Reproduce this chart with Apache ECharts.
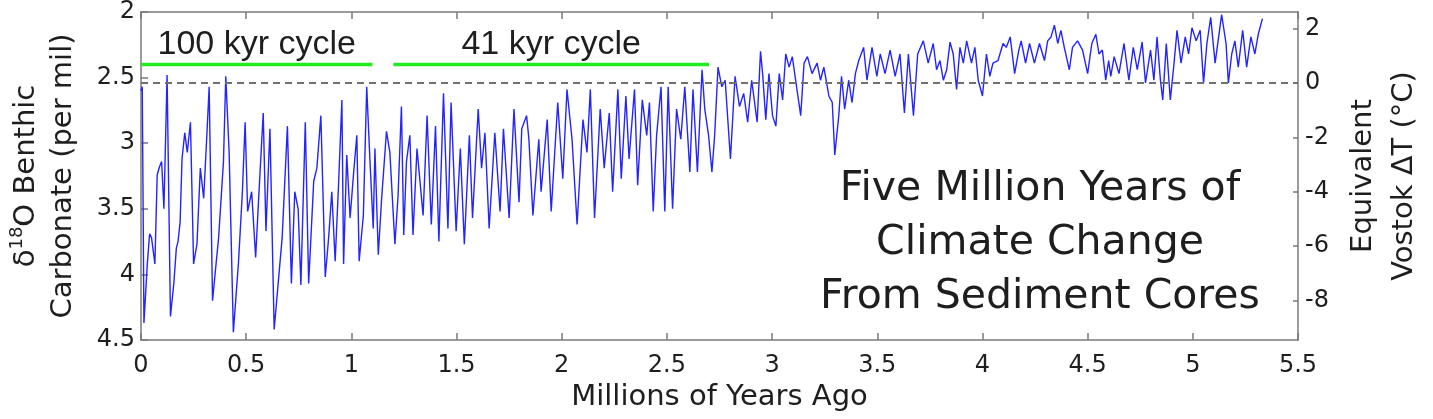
<!DOCTYPE html>
<html>
<head>
<meta charset="utf-8">
<script src="https://cdn.jsdelivr.net/npm/echarts@6.0.0/dist/echarts.min.js"></script>
<style>
  html, body { margin: 0; padding: 0; background: #ffffff; }
  #chart { width: 1433px; height: 419px; }
</style>
</head>
<body>
<div id="chart"></div>
<script>
// ---- Data ----
// Age in millions of years ago
const age = [
  0.000, 0.006, 0.014, 0.030, 0.041, 0.050, 0.066, 0.077, 0.088, 0.098, 0.109, 0.124, 0.140, 0.156, 0.168, 0.176, 0.186, 0.195, 0.208, 0.220, 0.235, 0.250, 0.266, 0.282, 0.298, 0.313, 0.324, 0.340, 0.355, 0.369, 0.392, 0.403, 0.419, 0.439, 0.463, 0.482, 0.495, 0.507, 0.526, 0.545, 0.561, 0.581, 0.594, 0.613, 0.633, 0.652, 0.671, 0.696, 0.715, 0.731, 0.747,
  0.760, 0.781, 0.797, 0.821, 0.836, 0.855, 0.876, 0.892, 0.907, 0.923, 0.939, 0.955, 0.963, 0.978, 0.994, 1.010, 1.026, 1.037, 1.057, 1.073, 1.088, 1.104, 1.112, 1.128, 1.144, 1.167, 1.183, 1.207, 1.222, 1.238, 1.249, 1.262, 1.278, 1.293, 1.312, 1.341, 1.360, 1.380, 1.400, 1.416, 1.438, 1.459, 1.474,
  1.498, 1.518, 1.537, 1.561, 1.576, 1.603, 1.619, 1.635, 1.655, 1.682, 1.707, 1.723, 1.750, 1.773, 1.797, 1.810, 1.833, 1.844, 1.863, 1.891, 1.902, 1.931, 1.950, 1.981, 2.005, 2.025, 2.049, 2.073, 2.101, 2.120, 2.136, 2.156, 2.183, 2.202,
  2.226, 2.242, 2.267, 2.283, 2.305, 2.320, 2.346, 2.361, 2.383, 2.404, 2.417, 2.435, 2.451, 2.472, 2.490, 2.506, 2.527, 2.546, 2.566, 2.585, 2.609, 2.624, 2.645, 2.667, 2.680, 2.698, 2.714, 2.727, 2.743, 2.761, 2.777, 2.802, 2.824, 2.845, 2.865, 2.884, 2.903, 2.929,
  2.945, 2.955, 2.970, 2.985, 3.002, 3.018, 3.034, 3.050, 3.065, 3.081, 3.096, 3.112, 3.136, 3.152, 3.168, 3.190, 3.214, 3.230, 3.246, 3.270, 3.286, 3.298, 3.317, 3.330, 3.345, 3.364, 3.380, 3.396, 3.412, 3.435, 3.451, 3.475, 3.498, 3.514, 3.537, 3.561, 3.585, 3.608, 3.629, 3.648, 3.672, 3.692, 3.719, 3.742, 3.766,
  3.782, 3.798, 3.814, 3.830, 3.846, 3.861, 3.877, 3.893, 3.909, 3.925, 3.948, 3.964, 3.980, 4.000, 4.019, 4.035, 4.050, 4.074, 4.098, 4.113, 4.132, 4.153, 4.173, 4.184, 4.205, 4.224, 4.247, 4.271, 4.295, 4.310, 4.326, 4.342, 4.358, 4.373, 4.389, 4.413, 4.428, 4.452, 4.476, 4.500, 4.520, 4.539, 4.554, 4.570, 4.586,
  4.600, 4.610, 4.626, 4.649, 4.673, 4.696, 4.717, 4.736, 4.759, 4.775, 4.799, 4.815, 4.830, 4.846, 4.857, 4.874, 4.893, 4.909, 4.925, 4.944, 4.964, 4.980, 4.996, 5.016, 5.035, 5.051, 5.067, 5.085, 5.106, 5.137, 5.158, 5.169, 5.185, 5.200, 5.216, 5.237, 5.256, 5.276, 5.295, 5.311, 5.331
];
// delta-18O of benthic carbonate (per mil)
const d18O = [
  2.60, 2.57, 4.37, 3.92, 3.69, 3.72, 3.92, 3.24, 3.18, 3.14, 3.50, 2.48, 4.32, 4.07, 3.80, 3.75, 3.60, 3.12, 2.92, 3.07, 2.84, 3.92, 3.77, 3.19, 3.42, 2.94, 2.57, 4.20, 3.95, 3.72, 3.14, 2.49, 3.07, 4.44, 3.92, 3.37, 2.84, 3.52, 3.37, 3.87, 3.37, 2.77, 3.67, 2.89, 4.42, 4.07, 3.72, 2.87, 4.07, 3.37, 3.50,
  4.08, 2.84, 4.07, 3.29, 3.19, 2.79, 4.02, 3.72, 3.37, 3.90, 3.32, 2.67, 3.92, 3.09, 3.57, 3.24, 2.94, 3.90, 3.55, 2.57, 3.12, 3.65, 3.04, 3.85, 3.42, 2.91, 3.07, 3.77, 3.40, 2.72, 3.70, 3.14, 2.94, 3.70, 3.04, 3.55, 2.79, 3.62, 2.87, 3.75, 2.62, 3.65, 2.69,
  3.67, 3.04, 3.77, 2.94, 3.57, 2.74, 3.19, 2.92, 3.65, 2.92, 3.52, 2.89, 3.57, 2.74, 3.45, 2.89, 2.79, 2.97, 3.55, 2.97, 3.37, 2.82, 3.52, 2.69, 3.27, 2.59, 2.97, 3.62, 2.82, 3.07, 2.59, 3.57, 2.74, 3.19,
  2.77, 3.37, 2.59, 3.27, 2.64, 3.12, 2.59, 3.32, 2.67, 2.94, 2.69, 3.52, 2.94, 2.57, 3.52, 2.57, 3.50, 2.74, 2.97, 2.57, 3.22, 2.59, 3.22, 2.44, 2.74, 2.94, 3.22, 2.94, 2.42, 2.57, 2.52, 3.12, 2.49, 2.72, 2.62, 2.84, 2.52, 2.84,
  2.30, 2.47, 2.82, 2.47, 2.79, 2.87, 2.47, 2.67, 2.32, 2.42, 2.34, 2.52, 2.79, 2.39, 2.34, 2.47, 2.39, 2.52, 2.42, 2.64, 2.69, 3.09, 2.79, 2.49, 2.74, 2.52, 2.69, 2.47, 2.37, 2.27, 2.52, 2.27, 2.49, 2.32, 2.47, 2.29, 2.49, 2.32, 2.77, 2.32, 2.79, 2.32, 2.22, 2.39, 2.24,
  2.44, 2.37, 2.52, 2.44, 2.23, 2.32, 2.59, 2.27, 2.39, 2.22, 2.39, 2.27, 2.52, 2.64, 2.32, 2.49, 2.39, 2.37, 2.24, 2.27, 2.19, 2.47, 2.29, 2.22, 2.39, 2.24, 2.39, 2.24, 2.37, 2.22, 2.19, 2.10, 2.24, 2.14, 2.27, 2.44, 2.27, 2.22, 2.29, 2.47, 2.24, 2.17, 2.32, 2.29, 2.52,
  2.37, 2.49, 2.34, 2.47, 2.24, 2.52, 2.27, 2.44, 2.23, 2.54, 2.29, 2.52, 2.19, 2.52, 2.67, 2.24, 2.67, 2.42, 2.14, 2.39, 2.19, 2.32, 2.12, 2.22, 2.14, 2.54, 2.24, 2.04, 2.39, 2.02, 2.24, 2.54, 2.32, 2.22, 2.42, 2.14, 2.42, 2.19, 2.32, 2.17, 2.05
];

// Axis ticks
const ageTicks = { min: 0, max: 5.5, step: 0.5 };
const d18OTicks = { min: 2, max: 4.5, step: 0.5 };
const tempTicks = [-8, -6, -4, -2, 0, 2];
// Equivalent Vostok dT range matching the left axis limits (2 .. 4.5 per mil)
const tempRange = { top: 2.62, bottom: -9.46 };
const tempReference = [0];

// Cycle annotations
const cycleLabels = ['100 kyr cycle', '41 kyr cycle'];
const cycleStart = [0.0, 1.20];
const cycleEnd = [1.10, 2.70];
const cycleLevel = 2.40;

const titleLines = ['Five Million Years of', 'Climate Change', 'From Sediment Cores'];

// ---- Chart ----
const chart = echarts.init(document.getElementById('chart'), null, { renderer: 'canvas' });

const axisColor = '#7a7a7a';
const textColor = '#1e1e1e';
const tickFont = 'DejaVu Sans';

const seriesData = age.map((a, i) => [a, d18O[i]]);

const cycleSeries = cycleLabels.map((name, i) => ({
  name: name,
  type: 'line',
  xAxisIndex: 0,
  yAxisIndex: 0,
  data: [[cycleStart[i], cycleLevel], [cycleEnd[i], cycleLevel]],
  showSymbol: false,
  symbol: 'none',
  lineStyle: { color: '#22ec22', width: 3.5 },
  z: 4,
  silent: true
}));

const option = {
  backgroundColor: '#ffffff',
  animation: false,
  grid: { left: 138, right: 131, top: 8, bottom: 79, containLabel: false },
  xAxis: [
    {
      type: 'value', position: 'bottom',
      min: ageTicks.min, max: ageTicks.max, interval: ageTicks.step,
      axisLine: { show: true, onZero: false, lineStyle: { color: axisColor, width: 1.5 } },
      axisTick: { show: true, inside: true, length: 7, lineStyle: { color: axisColor, width: 1.5 } },
      axisLabel: { fontSize: 24, fontFamily: tickFont, color: textColor, margin: 14 },
      splitLine: { show: false },
      name: 'Millions of Years Ago', nameLocation: 'middle', nameGap: 42,
      nameTextStyle: { fontSize: 29, fontFamily: tickFont, color: textColor }
    },
    {
      type: 'value', position: 'top',
      min: ageTicks.min, max: ageTicks.max, interval: ageTicks.step,
      axisLine: { show: true, onZero: false, lineStyle: { color: axisColor, width: 1.5 } },
      axisTick: { show: true, inside: true, length: 7, lineStyle: { color: axisColor, width: 1.5 } },
      axisLabel: { show: false },
      splitLine: { show: false }
    }
  ],
  yAxis: [
    {
      type: 'value', position: 'left', inverse: true,
      min: d18OTicks.min, max: d18OTicks.max, interval: d18OTicks.step,
      axisLine: { show: true, onZero: false, lineStyle: { color: axisColor, width: 1.5 } },
      axisTick: { show: true, inside: true, length: 7, lineStyle: { color: axisColor, width: 1.5 } },
      axisLabel: { fontSize: 24, fontFamily: tickFont, color: textColor, margin: 6 },
      splitLine: { show: false },
      name: '{a|δ}{s|18}{a|O Benthic}\n{a|Carbonate (per mil)}',
      nameLocation: 'middle', nameRotate: 90, nameGap: 59,
      nameTextStyle: {
        color: textColor, fontFamily: tickFont, fontSize: 29, lineHeight: 37,
        rich: {
          a: { fontSize: 29, fontFamily: tickFont, color: textColor, lineHeight: 37 },
          s: { fontSize: 18, fontFamily: tickFont, color: textColor, lineHeight: 37, verticalAlign: 'top', padding: [0, 0, 14, 0] }
        }
      }
    },
    {
      type: 'value', position: 'right',
      min: tempRange.bottom, max: tempRange.top,
      axisLine: { show: true, onZero: false, lineStyle: { color: axisColor, width: 1.5 } },
      axisTick: { show: true, inside: true, length: 5, customValues: tempTicks, lineStyle: { color: axisColor, width: 1.5 } },
      axisLabel: { fontSize: 24, fontFamily: tickFont, color: textColor, margin: 7, customValues: tempTicks },
      splitLine: { show: false },
      name: 'Equivalent\nVostok ΔT (°C)',
      nameLocation: 'middle', nameRotate: 90, nameGap: 45,
      nameTextStyle: { color: textColor, fontFamily: tickFont, fontSize: 29, lineHeight: 41 }
    }
  ],
  series: [
    {
      name: 'd18O',
      type: 'line',
      xAxisIndex: 0, yAxisIndex: 0,
      data: seriesData,
      showSymbol: false, symbol: 'none',
      lineStyle: { color: '#2424ff', width: 1.4 },
      z: 3, silent: true
    },
    ...cycleSeries,
    {
      name: 'reference',
      type: 'line',
      xAxisIndex: 0, yAxisIndex: 1,
      data: [],
      silent: true,
      markLine: {
        silent: true,
        symbol: ['none', 'none'],
        label: { show: false },
        lineStyle: { color: '#707070', width: 2, type: [7, 5] },
        data: tempReference.map(v => ({ yAxis: v })),
        z: 5
      }
    }
  ]
};

chart.setOption(option);

// Text annotations placed from the data coordinates
const graphics = cycleLabels.map((label, i) => {
  const p = chart.convertToPixel({ xAxisIndex: 0, yAxisIndex: 0 }, [(cycleStart[i] + cycleEnd[i]) / 2, cycleLevel]);
  return {
    type: 'text',
    x: p[0], y: p[1] - 20,
    z: 10,
    style: {
      text: label, fill: textColor,
      fontSize: 34, fontFamily: 'Liberation Sans',
      align: 'center', verticalAlign: 'middle'
    }
  };
});
graphics.push({
  type: 'text',
  x: 1040, y: 243,
  z: 10,
  style: {
    text: titleLines.join('\n'), fill: textColor,
    fontSize: 41, fontFamily: 'DejaVu Sans', lineHeight: 54,
    align: 'center', verticalAlign: 'middle'
  }
});
chart.setOption({ graphic: graphics });
</script>
</body>
</html>
